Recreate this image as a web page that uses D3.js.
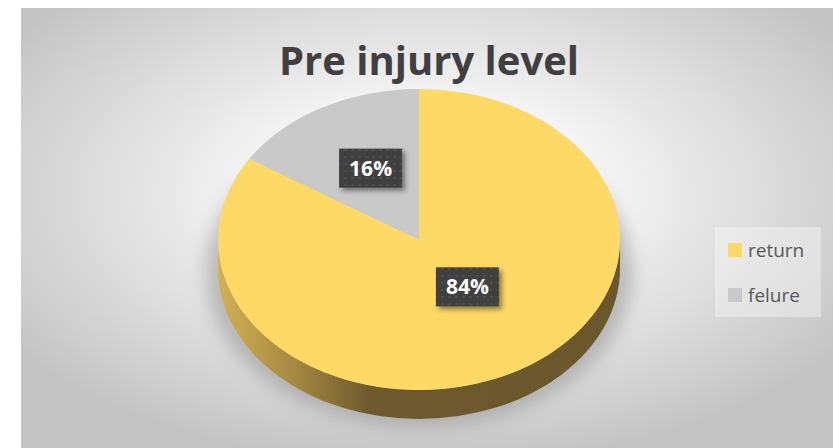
<!DOCTYPE html>
<html>
<head>
<meta charset="utf-8">
<script src="https://cdn.jsdelivr.net/npm/d3@7"></script>
<style>
  html, body { margin: 0; padding: 0; background: #ffffff; }
  svg { display: block; }
</style>
</head>
<body>
<svg id="chart" width="833" height="448"></svg>
<script>
// Chart data
const categories = ["return", "felure"];
const values = [84, 16];
const labels = ["84%", "16%"];
const colors = ["#FFD966", "#C9C9C9"];
const title = "Pre injury level";

const W = 833, H = 448;
const svg = d3.select("#chart");
const defs = svg.append("defs");

// Chart area
const area = { x: 21, y: 8, w: 812, h: 440 };

// Background radial gradient
const bg = defs.append("radialGradient").attr("id", "bgGrad")
  .attr("cx", 0.5).attr("cy", 0.42).attr("r", 0.62);
bg.append("stop").attr("offset", 0).attr("stop-color", "#fefefe");
bg.append("stop").attr("offset", 0.35).attr("stop-color", "#f4f4f4");
bg.append("stop").attr("offset", 1).attr("stop-color", "#c4c4c4");

svg.append("rect")
  .attr("x", area.x).attr("y", area.y)
  .attr("width", area.w).attr("height", area.h)
  .attr("fill", "url(#bgGrad)");

// Pie geometry (tilted ellipse)
const cx = 419, cy = 239.5, rx = 201, ry = 150.5, depth = 29;

// Soft shadow under the pie
const blur = defs.append("filter").attr("id", "pieShadow")
  .attr("x", "-20%").attr("y", "-20%").attr("width", "140%").attr("height", "140%");
blur.append("feGaussianBlur").attr("stdDeviation", 9);

svg.append("ellipse")
  .attr("cx", cx).attr("cy", cy + depth + 4)
  .attr("rx", rx + 12).attr("ry", ry + 4)
  .attr("fill", "#8a8a8a").attr("opacity", 0.5)
  .attr("filter", "url(#pieShadow)");

// Side gradient (lit from the left)
const sideGrad = defs.append("linearGradient").attr("id", "sideGrad")
  .attr("gradientUnits", "userSpaceOnUse")
  .attr("x1", cx - rx).attr("x2", cx + rx).attr("y1", 0).attr("y2", 0);
sideGrad.append("stop").attr("offset", 0).attr("stop-color", "#d2b152");
sideGrad.append("stop").attr("offset", 0.18).attr("stop-color", "#a88b42");
sideGrad.append("stop").attr("offset", 0.38).attr("stop-color", "#6c592d");
sideGrad.append("stop").attr("offset", 1).attr("stop-color", "#6a572b");

const sideGradGray = defs.append("linearGradient").attr("id", "sideGradGray")
  .attr("gradientUnits", "userSpaceOnUse")
  .attr("x1", cx - rx).attr("x2", cx + rx).attr("y1", 0).attr("y2", 0);
sideGradGray.append("stop").attr("offset", 0).attr("stop-color", "#a8a8a8");
sideGradGray.append("stop").attr("offset", 0.4).attr("stop-color", "#5e5e5e");
sideGradGray.append("stop").attr("offset", 1).attr("stop-color", "#5a5a5a");

const pie = d3.pie().sort(null).value(d => d.value);
const arcsData = pie(categories.map((c, i) => ({ name: c, value: values[i], color: colors[i], label: labels[i] })));

// Angle measured clockwise from 12 o'clock
const px = (a, dy = 0) => [cx + rx * Math.sin(a), cy - ry * Math.cos(a) + dy];

function sidePath(a0, a1) {
  // visible front part is between PI/2 and 3PI/2
  const s = Math.max(a0, Math.PI / 2), e = Math.min(a1, 3 * Math.PI / 2);
  if (e <= s) return null;
  const p0 = px(s), p1 = px(e), q1 = px(e, depth), q0 = px(s, depth);
  const large = (e - s) > Math.PI ? 1 : 0;
  return `M${p0}A${rx},${ry} 0 ${large} 1 ${p1}L${q1}A${rx},${ry} 0 ${large} 0 ${q0}Z`;
}

function topPath(a0, a1) {
  const p0 = px(a0), p1 = px(a1);
  const large = (a1 - a0) > Math.PI ? 1 : 0;
  return `M${cx},${cy}L${p0}A${rx},${ry} 0 ${large} 1 ${p1}Z`;
}

const gSide = svg.append("g");
arcsData.forEach((d, i) => {
  const p = sidePath(d.startAngle, d.endAngle);
  if (p) gSide.append("path").attr("d", p)
    .attr("fill", i === 0 ? "url(#sideGrad)" : "url(#sideGradGray)");
});

const gTop = svg.append("g");
gTop.selectAll("path").data(arcsData).join("path")
  .attr("d", d => topPath(d.startAngle, d.endAngle))
  .attr("fill", d => d.data.color);

// Data labels: dark boxes with dotted texture
const pat = defs.append("pattern").attr("id", "dots")
  .attr("width", 7).attr("height", 7).attr("patternUnits", "userSpaceOnUse");
pat.append("rect").attr("width", 7).attr("height", 7).attr("fill", "#3f3f3f");
pat.append("rect").attr("x", 2).attr("y", 2).attr("width", 2).attr("height", 2).attr("fill", "#525252");

const lblShadow = defs.append("filter").attr("id", "lblShadow")
  .attr("x", "-30%").attr("y", "-30%").attr("width", "160%").attr("height", "160%");
lblShadow.append("feDropShadow").attr("dx", 3).attr("dy", 3).attr("stdDeviation", 2.5)
  .attr("flood-color", "#000").attr("flood-opacity", 0.45);

const boxW = 63, boxH = 39;
const gLbl = svg.append("g");
arcsData.forEach(d => {
  const mid = (d.startAngle + d.endAngle) / 2;
  const lx = cx + rx * 0.5 * Math.sin(mid);
  const ly = cy - ry * 0.45 * Math.cos(mid) - 12;
  const g = gLbl.append("g").attr("transform", `translate(${lx},${ly})`);
  g.append("rect")
    .attr("x", -boxW / 2).attr("y", -boxH / 2)
    .attr("width", boxW).attr("height", boxH)
    .attr("fill", "url(#dots)")
    .attr("filter", "url(#lblShadow)");
  g.append("text")
    .attr("text-anchor", "middle").attr("dy", "0.36em")
    .attr("font-family", "'Open Sans', sans-serif").attr("font-weight", 700)
    .attr("font-size", 21).attr("fill", "#ffffff")
    .text(d.data.label);
});

// Title
svg.append("text")
  .attr("x", area.x + area.w / 2 + 2).attr("y", 75)
  .attr("text-anchor", "middle")
  .attr("font-family", "'Open Sans', sans-serif").attr("font-weight", 700)
  .attr("font-size", 40).attr("fill", "#404040")
  .text(title);

// Legend
const legend = svg.append("g");
legend.append("rect")
  .attr("x", 715).attr("y", 227).attr("width", 106).attr("height", 90)
  .attr("fill", "#ffffff").attr("opacity", 0.35);
const items = legend.selectAll("g.item").data(categories).join("g")
  .attr("class", "item")
  .attr("transform", (d, i) => `translate(728,${243 + i * 45})`);
items.append("rect").attr("width", 14).attr("height", 14)
  .attr("fill", (d, i) => colors[i]);
items.append("text")
  .attr("x", 20).attr("y", 7).attr("dy", "0.35em")
  .attr("font-family", "'Open Sans', sans-serif")
  .attr("font-size", 19).attr("fill", "#595959")
  .text(d => d);
</script>
</body>
</html>
